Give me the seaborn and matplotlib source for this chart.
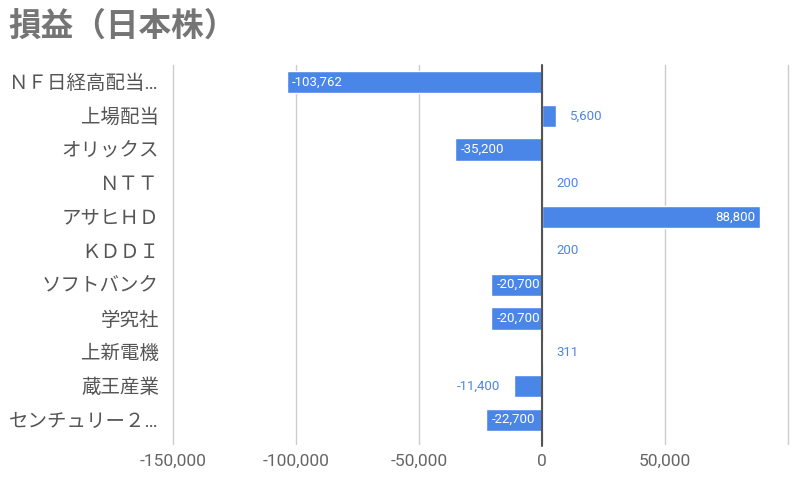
import pandas as pd
import matplotlib.pyplot as plt
import seaborn as sns

names = ['ＮＦ日経高配当…', '上場配当', 'オリックス', 'ＮＴＴ', 'アサヒＨＤ', 'ＫＤＤＩ',
         'ソフトバンク', '学究社', '上新電機', '蔵王産業', 'センチュリー２…']
profit = [-103762, 5600, -35200, 200, 88800, 200, -20700, -20700, 311, -11400, -22700]
x_ticks = [-150000, -100000, -50000, 0, 50000, 100000]
x_tick_labels = ['-150,000', '-100,000', '-50,000', '0', '50,000', '']

df = pd.DataFrame({'name': names, 'profit': profit})

sns.set_style('white')
plt.rcParams['font.family'] = ['Roboto', 'Noto Sans CJK JP', 'DejaVu Sans']

blue = '#4a86e8'
fig = plt.figure(figsize=(8, 4.83), dpi=100)
ax = fig.add_axes([0.216, 0.089, 0.769, 0.776])

sns.barplot(data=df, x='profit', y='name', color=blue, saturation=1, width=0.66, ax=ax, zorder=3)

ax.set_xlim(-150000, 100000)
ax.set_ylim(len(names) - 0.4, -0.5)
ax.set_xticks(x_ticks)
ax.set_xticklabels(x_tick_labels)
for x in x_ticks:
    ax.axvline(x, color='#cccccc', lw=1, zorder=1, ymin=-0.01, clip_on=False)
ax.axvline(0, color='#555555', lw=1.5, zorder=4, ymin=-0.015, clip_on=False)
sns.despine(ax=ax, left=True, bottom=True)
ax.set_xlabel('')
ax.set_ylabel('')
ax.tick_params(axis='x', length=0, pad=10, labelsize=12.5, labelcolor='#666666')
ax.tick_params(axis='y', length=0, pad=10, labelsize=14, labelcolor='#555555')

# value labels: inside the bar when it is long enough, otherwise outside in blue
for i, v in enumerate(profit):
    txt = f'{v:,}'
    if abs(v) > 15000:
        if v < 0:
            ax.annotate(txt, (v, i), xytext=(4, 0), textcoords='offset points',
                        ha='left', va='center', color='white', fontsize=9.5, zorder=5)
        else:
            ax.annotate(txt, (v, i), xytext=(-4, 0), textcoords='offset points',
                        ha='right', va='center', color='white', fontsize=9.5, zorder=5)
    else:
        if v < 0:
            ax.annotate(txt, (v, i), xytext=(-10, 0), textcoords='offset points',
                        ha='right', va='center', color=blue, fontsize=9.5, zorder=5)
        else:
            ax.annotate(txt, (v, i), xytext=(10, 0), textcoords='offset points',
                        ha='left', va='center', color=blue, fontsize=9.5, zorder=5)

fig.text(0.01, 0.946, '損益（日本株）', fontsize=23.5, fontweight='bold', color='#757575',
         family=['Noto Sans CJK JP'], va='center', ha='left')

plt.savefig('out.png', dpi=100)
